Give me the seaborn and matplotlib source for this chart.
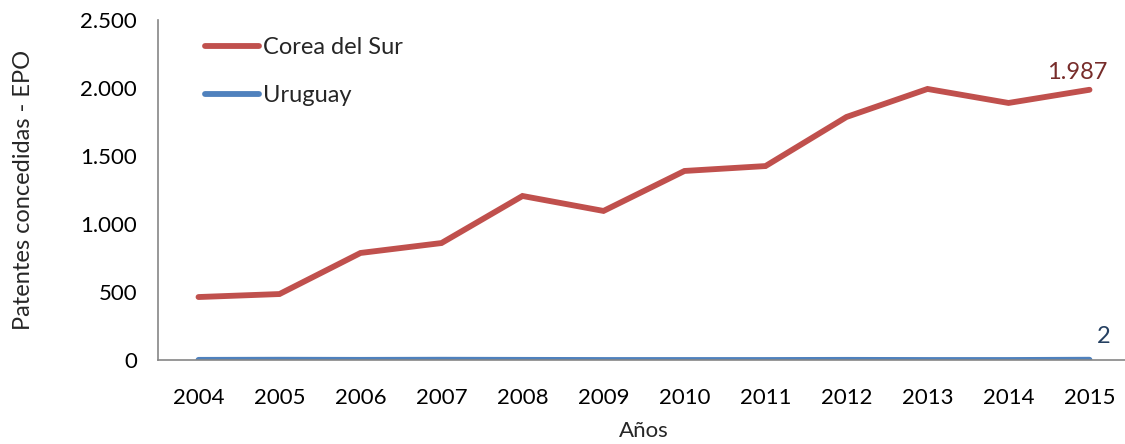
import matplotlib
matplotlib.use("Agg")
import matplotlib.pyplot as plt
import matplotlib.ticker as mticker
from matplotlib.lines import Line2D
import numpy as np
import pandas as pd
import seaborn as sns

anios = [2004, 2005, 2006, 2007, 2008, 2009, 2010, 2011, 2012, 2013, 2014, 2015]
corea = [463, 485, 787, 860, 1206, 1096, 1390, 1426, 1787, 1993, 1890, 1987]
uruguay = [1, 2, 1, 2, 1, 0, 0, 0, 1, 0, 0, 2]
series = ["Corea del Sur", "Uruguay"]
colores = ["#C0504D", "#4F81BD"]
colores_etiqueta = ["#772C2A", "#254061"]
y_ticks = [0, 500, 1000, 1500, 2000, 2500]

df = pd.DataFrame({
    "Año": anios * 2,
    "Patentes": corea + uruguay,
    "País": [series[0]] * len(anios) + [series[1]] * len(anios),
})

sns.set_theme(style="white")
plt.rcParams["font.family"] = ["Lato", "DejaVu Sans"]

FS = 16
LW = 4.2

fig = plt.figure(figsize=(11.25, 4.44), dpi=100)
ax = fig.add_axes([158 / 1125, 84 / 444, (1130 - 158) / 1125, 340 / 444])

sns.lineplot(data=df, x="Año", y="Patentes", hue="País", hue_order=series,
             palette=colores, linewidth=LW, ax=ax, legend=False,
             solid_capstyle="round", solid_joinstyle="miter")

ax.set_xlim(anios[0] - 0.5, anios[-1] + 0.5)
ax.set_ylim(0, 2500)
ax.set_yticks(y_ticks)
ax.yaxis.set_major_formatter(
    mticker.FuncFormatter(lambda v, p: f"{int(v):,}".replace(",", ".")))

# year labels at category centres, tick marks at category boundaries
ax.set_xticks(anios)
ax.set_xticklabels([str(a) for a in anios])
ax.set_xticks(np.arange(anios[0] - 0.5, anios[-1] + 0.6, 1.0), minor=True)
ax.tick_params(axis="x", which="major", length=0, pad=20, labelsize=FS, labelcolor="black")
ax.tick_params(axis="x", which="minor", length=7, width=1.2, color="#868686", direction="out")
ax.tick_params(axis="y", which="major", length=6, width=1.2, color="#868686",
               direction="out", labelsize=FS, labelcolor="black", pad=9)

for s in ["top", "right"]:
    ax.spines[s].set_visible(False)
for s in ["left", "bottom"]:
    ax.spines[s].set_color("#868686")
    ax.spines[s].set_linewidth(1.2)

ax.set_xlabel("Años", fontsize=FS)
ax.set_ylabel("Patentes concedidas - EPO", fontsize=17)
ax.xaxis.set_label_coords(0.5, -0.178)
ax.yaxis.set_label_coords(-0.128, 0.5)

# value labels at the last year
ax.annotate(f"{corea[-1]:,}".replace(",", "."), (anios[-1], corea[-1]),
            xytext=(13, 5), textcoords="offset points", ha="right", va="bottom",
            fontsize=17, color=colores_etiqueta[0])
ax.annotate(str(uruguay[-1]), (anios[-1], uruguay[-1]),
            xytext=(5, 9), textcoords="offset points", ha="left", va="bottom",
            fontsize=17, color=colores_etiqueta[1])

handles = [Line2D([0], [0], color=c, lw=LW, solid_capstyle="round") for c in colores]
ax.legend(handles, series, loc="upper left", bbox_to_anchor=(0.048, 0.95),
          frameon=False, fontsize=17, handlelength=2.3, handletextpad=0.15,
          labelspacing=1.16, borderaxespad=0, borderpad=0)

fig.savefig("out.png", dpi=100)
